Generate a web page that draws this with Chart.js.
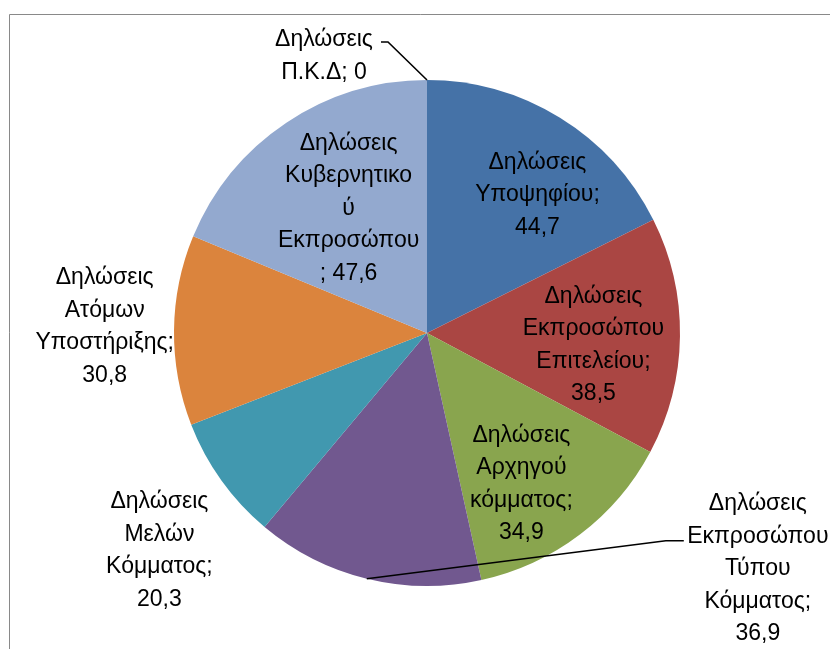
<!DOCTYPE html>
<html>
<head>
<meta charset="utf-8">
<script src="https://cdn.jsdelivr.net/npm/chart.js@4/dist/chart.umd.min.js"></script>
<style>
html,body{margin:0;padding:0;background:#ffffff;overflow:hidden}
#wrap{width:830px;height:649px;position:relative}
</style>
</head>
<body>
<div id="wrap"><canvas id="c"></canvas></div>
<script>
// ---- data ----
const categories = [
  'Δηλώσεις Π.Κ.Δ',
  'Δηλώσεις Υποψηφίου',
  'Δηλώσεις Εκπροσώπου Επιτελείου',
  'Δηλώσεις Αρχηγού κόμματος',
  'Δηλώσεις Εκπροσώπου Τύπου Κόμματος',
  'Δηλώσεις Μελών Κόμματος',
  'Δηλώσεις Ατόμων Υποστήριξης',
  'Δηλώσεις Κυβερνητικού Εκπροσώπου'
];
const values = [0, 44.7, 38.5, 34.9, 36.9, 20.3, 30.8, 47.6];
// displayed label text, wrapped as in the original
const labelLines = [
  ['Δηλώσεις', 'Π.Κ.Δ; 0'],
  ['Δηλώσεις', 'Υποψηφίου;', '44,7'],
  ['Δηλώσεις', 'Εκπροσώπου', 'Επιτελείου;', '38,5'],
  ['Δηλώσεις', 'Αρχηγού', 'κόμματος;', '34,9'],
  ['Δηλώσεις', 'Εκπροσώπου', 'Τύπου', 'Κόμματος;', '36,9'],
  ['Δηλώσεις', 'Μελών', 'Κόμματος;', '20,3'],
  ['Δηλώσεις', 'Ατόμων', 'Υποστήριξης;', '30,8'],
  ['Δηλώσεις', 'Κυβερνητικο', 'ύ', 'Εκπροσώπου', '; 47,6']
];
const colors = ['#4572A7', '#4572A7', '#AA4643', '#89A54E', '#71588F', '#4198AF', '#DB843D', '#93A9CF'];

// ---- label placement (style, relative to each slice's middle angle) ----
const FONT = '23px "Liberation Sans", Arial, sans-serif';
const LINE_H = 32.5;
const placement = [
  {f: 1.0, dx: -103, dy: -24, leader: {sx: 57, ex: 64, ey: -14}},
  {f: 0.65, dx: 24, dy: 2},
  {f: 0.65, dx: 2, dy: 10},
  {f: 0.65, dx: -5, dy: 20},
  {f: 1.0, dx: 391, dy: -10, leader: {sx: -74, ex: -92, ey: -28}},
  {f: 1.36, dx: 12, dy: 17},
  {f: 1.27, dx: -1, dy: -3},
  {f: 0.65, dx: 13, dy: 12}
];

const framePlugin = {
  id: 'frame',
  beforeDraw(chart) {
    const ctx = chart.ctx;
    ctx.save();
    ctx.fillStyle = '#ffffff';
    ctx.fillRect(0, 0, chart.width, chart.height);
    ctx.strokeStyle = '#898989';
    ctx.lineWidth = 1;
    ctx.beginPath();
    ctx.moveTo(9.5, chart.height + 2);
    ctx.lineTo(9.5, 14.5);
    ctx.lineTo(chart.width + 2, 14.5);
    ctx.stroke();
    ctx.restore();
  }
};

const labelPlugin = {
  id: 'sliceLabels',
  afterDatasetsDraw(chart) {
    const ctx = chart.ctx;
    const meta = chart.getDatasetMeta(0);
    ctx.save();
    ctx.font = FONT;
    ctx.fillStyle = '#000000';
    ctx.textAlign = 'center';
    ctx.textBaseline = 'middle';
    meta.data.forEach((arc, i) => {
      const p = placement[i];
      const mid = (arc.startAngle + arc.endAngle) / 2;
      const R = arc.outerRadius;
      const ax = arc.x + Math.cos(mid) * R * p.f;
      const ay = arc.y + Math.sin(mid) * R * p.f;
      const cx = ax + p.dx;
      const cy = ay + p.dy;
      if (p.leader) {
        const ex = arc.x + Math.cos(mid) * R;
        const ey = arc.y + Math.sin(mid) * R;
        ctx.strokeStyle = '#000000';
        ctx.lineWidth = 1.6;
        ctx.beginPath();
        ctx.moveTo(cx + p.leader.sx, cy + p.leader.ey);
        ctx.lineTo(cx + p.leader.ex, cy + p.leader.ey);
        ctx.lineTo(ex, ey);
        ctx.stroke();
      }
      const lines = labelLines[i];
      const top = cy - (lines.length - 1) * LINE_H / 2;
      lines.forEach((t, k) => ctx.fillText(t, cx, top + k * LINE_H));
    });
    ctx.restore();
  }
};

new Chart(document.getElementById('c'), {
  type: 'pie',
  data: {
    labels: categories,
    datasets: [{
      data: values,
      backgroundColor: colors,
      borderWidth: 0,
      hoverOffset: 0
    }]
  },
  options: {
    responsive: true,
    maintainAspectRatio: false,
    animation: false,
    layout: {padding: {top: 80, bottom: 63, left: 100, right: 76}},
    plugins: {
      legend: {display: false},
      tooltip: {enabled: false},
      title: {display: false}
    }
  },
  plugins: [framePlugin, labelPlugin]
});
</script>
</body>
</html>
